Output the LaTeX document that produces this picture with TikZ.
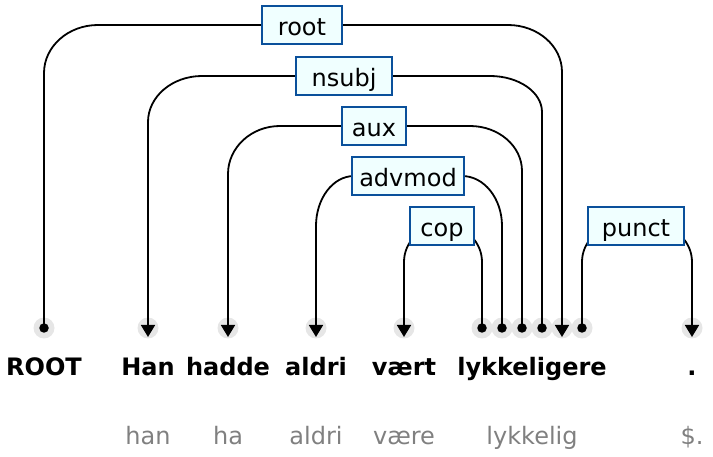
\documentclass[tikz,border=0pt]{standalone}
\usepackage{fontspec}
\setmainfont{DejaVu Sans}
\usetikzlibrary{calc,arrows.meta}
\pgfdeclarelayer{bg}
\pgfdeclarelayer{mid}
\pgfsetlayers{bg,mid,main}
\definecolor{boxborder}{RGB}{10,80,155}
\definecolor{boxfill}{RGB}{240,255,255}
\definecolor{tokgray}{RGB}{230,230,230}
\definecolor{lemgray}{RGB}{128,128,128}
\tikzset{
  arcline/.style={line width=1.8pt, black},
  arrR/.style={-{Triangle[width=14pt,length=12pt]}},
  arrL/.style={{Triangle[width=14pt,length=12pt]}-},
  lab/.style={draw=boxborder, fill=boxfill, line width=1.8pt, inner sep=0pt,
    minimum height=38pt, text height=24pt, text depth=2pt,
    font=\fontsize{24}{28}\selectfont},
  word/.style={anchor=base, inner sep=0pt, font=\fontsize{24}{28}\selectfont\bfseries},
  lemma/.style={anchor=base, inner sep=0pt, text=lemgray, font=\fontsize{24}{28}\selectfont},
  halo/.style={circle, fill=tokgray, minimum size=21pt, inner sep=0pt},
  headdot/.style={circle, fill=black, minimum size=9.5pt, inner sep=0pt},
}
% #1 left end, #2 right end, #3 label, #4 Rh left, #5 Rv left, #6 Rh right, #7 Rv right, #8 arrow style
\newcommand\deparc[8]{%
  \draw[arcline,#8] (#1) -- ($(#1|-#3)+(0,#5)$)
    .. controls ($(#1|-#3)+(0,{#5*0.448})$) and ($(#1|-#3)+({#4*0.448},0)$) .. ($(#1|-#3)+(#4,0)$)
    -- ($(#2|-#3)+(-#6,0)$)
    .. controls ($(#2|-#3)+({-#6*0.448},0)$) and ($(#2|-#3)+(0,{#7*0.448})$) .. ($(#2|-#3)+(0,#7)$)
    -- (#2);}
\begin{document}
\begin{tikzpicture}[x=1pt,y=-1pt]
\useasboundingbox (0,0) rectangle (713,457);
% token anchor points
\foreach \n/\x in {t0/44,t1/148,t2/228,t3/316,t4/404,t5a/482,t5b/502,t5c/522,t5d/542,t5e/562,t5f/582,t6/692}{
  \coordinate (\n) at (\x,328);
  \coordinate (a\n) at (\x,337);
}
\begin{pgfonlayer}{bg}
\foreach \n in {t0,t1,t2,t3,t4,t5a,t5b,t5c,t5d,t5e,t5f,t6}{
  \node[halo] (h\n) at (\n) {};
}
\end{pgfonlayer}
% labels
\node[lab, minimum width=80pt] (lroot) at (302,25) {root};
\node[lab, minimum width=96pt] (lnsubj) at (344,76) {nsubj};
\node[lab, minimum width=64pt] (laux) at (374,126) {aux};
\node[lab, minimum width=112pt] (ladvmod) at (408,176) {advmod};
\node[lab, minimum width=64pt] (lcop) at (442,226) {cop};
\node[lab, minimum width=96pt] (lpunct) at (636,226) {punct};
% arcs
\begin{pgfonlayer}{mid}
\deparc{t0}{at5e}{lroot}{54}{48}{54}{47}{arrR}
\deparc{at1}{t5d}{lnsubj}{54}{46}{52}{36}{arrL}
\deparc{at2}{t5c}{laux}{52}{48}{52}{45}{arrL}
\deparc{at3}{t5b}{ladvmod}{38}{50}{40}{50}{arrL}
\deparc{at4}{t5a}{lcop}{36}{36}{36}{36}{arrL}
\deparc{t5f}{at6}{lpunct}{36}{36}{36}{36}{arrR}
\end{pgfonlayer}
% head dots
\foreach \n in {t0,t5a,t5b,t5c,t5d,t5f}{
  \node[headdot] (d\n) at (\n) {};
}
% words
\node[word] (w0) at (44,376) {ROOT};
\node[word] (w1) at (148,376) {Han};
\node[word] (w2) at (228,376) {hadde};
\node[word] (w3) at (316,376) {aldri};
\node[word] (w4) at (404,376) {vært};
\node[word] (w5) at (532,376) {lykkeligere};
\node[word] (w6) at (692,376) {.};
% lemmas
\node[lemma] (m1) at (148,444) {han};
\node[lemma] (m2) at (228,444) {ha};
\node[lemma] (m3) at (316,444) {aldri};
\node[lemma] (m4) at (404,444) {være};
\node[lemma] (m5) at (532,444) {lykkelig};
\node[lemma] (m6) at (692,444) {\$.};
\end{tikzpicture}
\end{document}
